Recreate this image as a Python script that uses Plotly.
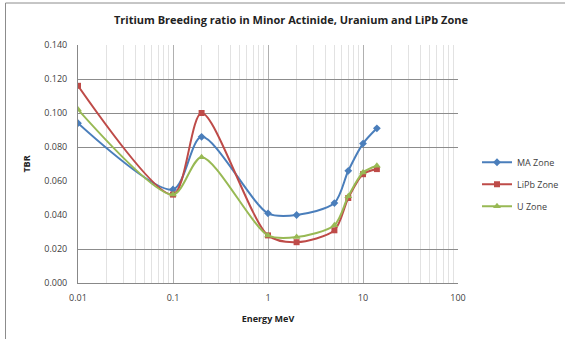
import plotly.graph_objects as go

energy = [0.01, 0.1, 0.2, 1, 2, 5, 7, 10, 14]
ma_zone = [0.094, 0.055, 0.086, 0.041, 0.040, 0.047, 0.066, 0.082, 0.091]
lipb_zone = [0.116, 0.052, 0.100, 0.028, 0.024, 0.031, 0.050, 0.064, 0.067]
u_zone = [0.102, 0.052, 0.074, 0.028, 0.027, 0.034, 0.051, 0.065, 0.069]
y_ticks = [0.0, 0.02, 0.04, 0.06, 0.08, 0.10, 0.12, 0.14]
y_ticklabels = ["0.000", "0.020", "0.040", "0.060", "0.080", "0.100", "0.120", "0.140"]
y_visible_grid = [0.02, 0.08, 0.10, 0.12]
x_ticks = [0.01, 0.1, 1, 10, 100]
x_ticklabels = ["0.01", "0.1", "1", "10", "100"]

font = "Open Sans"
fig = go.Figure()
fig.add_trace(go.Scatter(x=[], y=[], yaxis="y2", showlegend=False, hoverinfo="skip"))
series = [
    ("MA Zone", ma_zone, "#4a7ebb", "diamond", 6),
    ("LiPb Zone", lipb_zone, "#be4b48", "square", 6),
    ("U Zone", u_zone, "#98b954", "triangle-up", 7),
]
for name, vals, col, sym, sz in series:
    fig.add_trace(go.Scatter(
        x=energy, y=vals, name=name, mode="lines+markers", legendgroup=name,
        line=dict(color=col, width=2, shape="spline", smoothing=0.8),
        marker=dict(symbol=sym, size=sz, color=col),
    ))

fig.update_layout(
    width=565, height=339,
    margin=dict(l=78, r=107, t=45, b=56, autoexpand=False),
    paper_bgcolor="white", plot_bgcolor="white",
    font=dict(family=font, size=9, color="#404040"),
    title=dict(text="<b>Tritium Breeding ratio in Minor Actinide, Uranium and LiPb Zone</b>",
               x=0.515, xanchor="center", y=0.94, yanchor="middle",
               font=dict(family=font, size=11, color="#222")),
    showlegend=True,
    legend=dict(x=1.05, xanchor="left", y=0.415, yanchor="middle",
                font=dict(family=font, size=9, color="#404040"),
                traceorder="grouped", tracegroupgap=3, itemwidth=30),
    xaxis=dict(type="log", range=[-2, 2], tickvals=x_ticks, ticktext=x_ticklabels,
               showgrid=True, gridcolor="#b0b0b0", gridwidth=1,
               minor=dict(showgrid=True, gridcolor="#e2e2e2", dtick="D1", ticks=""),
               showline=True, linecolor="#888", linewidth=1, ticks="",
               zeroline=False, automargin=False, ticklabelstandoff=6,
               title=dict(text="<b>Energy MeV</b>", font=dict(family=font, size=9, color="#222"), standoff=12)),
    yaxis=dict(range=[0, 0.14], tickvals=y_ticks, ticktext=y_ticklabels,
               showgrid=False, showline=True, linecolor="#888", linewidth=1,
               ticks="", zeroline=False, automargin=False, ticklabelstandoff=8,
               title=dict(text="<b>TBR</b>", font=dict(family=font, size=9, color="#222"), standoff=12)),
    yaxis2=dict(range=[0, 0.14], overlaying="y", tickvals=y_visible_grid,
                showgrid=True, gridcolor="#8c8c8c", gridwidth=1, automargin=False,
                showticklabels=False, ticks="", showline=False, zeroline=False),
    shapes=[
        dict(type="line", xref="paper", yref="paper",
             x0=-72.5/380, x1=1 + 107/380, y0=1 + 42/238, y1=1 + 42/238,
             line=dict(color="#8c8c8c", width=1), layer="below"),
        dict(type="line", xref="paper", yref="paper",
             x0=-72.5/380, x1=-72.5/380, y0=1 + 42/238, y1=-56/238,
             line=dict(color="#8c8c8c", width=1), layer="below"),
    ],
)

fig.write_html("out.html", config={"displayModeBar": False},
               post_script="document.body.style.margin='0';document.body.style.overflow='hidden';")
